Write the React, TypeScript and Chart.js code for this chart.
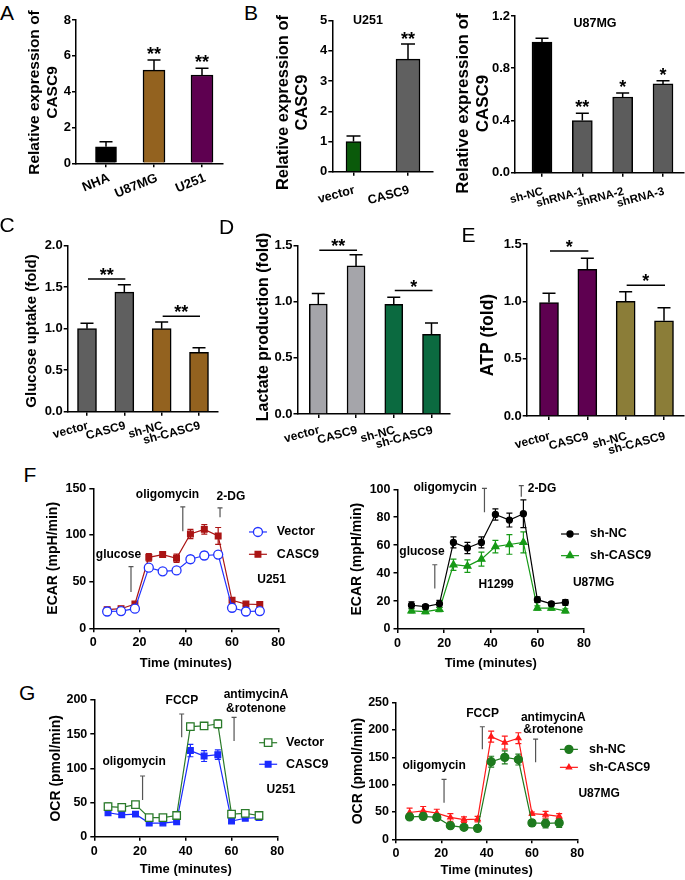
import React, { useEffect, useRef } from 'react';
import { Chart, registerables } from 'chart.js';

Chart.register(...registerables);
const FAMILY = "'Liberation Sans', Arial, Helvetica, sans-serif";
(Chart.defaults.font as any).family = FAMILY;
(Chart.defaults.font as any).weight = 'bold';
Chart.defaults.color = '#000';

// ---------------- data ----------------
const A_LABELS = ['NHA', 'U87MG', 'U251'];
const A_VALUES = [0.92, 5.2, 4.93];
const A_ERRORS = [0.28, 0.56, 0.37];
const A_STARS = ['', '**', '**'];

const B1_LABELS = ['vector', 'CASC9'];
const B1_VALUES = [1.0, 3.73];
const B1_ERRORS = [0.18, 0.5];
const B1_STARS = ['', '**'];

const B2_LABELS = ['sh-NC', 'shRNA-1', 'shRNA-2', 'shRNA-3'];
const B2_VALUES = [1.0, 0.4, 0.58, 0.68];
const B2_ERRORS = [0.03, 0.055, 0.03, 0.025];
const B2_STARS = ['', '**', '*', '*'];

const GROUP_LABELS = ['vector', 'CASC9', 'sh-NC', 'sh-CASC9'];
const C_VALUES = [1.0, 1.44, 1.0, 0.715];
const C_ERRORS = [0.065, 0.09, 0.08, 0.055];
const C_SIG = [{ from: 0, to: 1, y: 1.6, text: '**' }, { from: 2, to: 3, y: 1.15, text: '**' }];
const D_VALUES = [0.98, 1.32, 0.978, 0.71];
const D_ERRORS = [0.095, 0.1, 0.062, 0.1];
const D_SIG = [{ from: 0, to: 1, y: 1.46, text: '**' }, { from: 2, to: 3, y: 1.1, text: '*' }];
const E_VALUES = [0.99, 1.28, 1.0, 0.83];
const E_ERRORS = [0.08, 0.095, 0.084, 0.114];
const E_SIG = [{ from: 0, to: 1, y: 1.44, text: '*' }, { from: 2, to: 3, y: 1.14, text: '*' }];

const TIMES = [6, 12, 18, 24, 30, 36, 42, 48, 54, 60, 66, 72];
const F1_VECTOR = [18, 18.5, 21, 65, 61, 62, 74, 78, 79, 22, 18, 18.5];
const F1_VECTOR_ERR = [2, 2, 2, 2, 2, 2, 4, 4, 3, 2, 1.5, 1.5];
const F1_CASC9 = [20, 21, 26, 76, 79, 75, 101, 106, 99, 30, 26, 25.5];
const F1_CASC9_ERR = [2, 2, 2, 4, 2.5, 4.5, 5, 5, 9, 3, 2, 2];
const F2_SHNC = [17, 16, 18, 62, 58, 62, 82, 78, 82.5, 21, 18, 19];
const F2_SHNC_ERR = [2.5, 1.5, 2.5, 4, 4, 4, 4, 5, 10, 2, 1.5, 2];
const F2_SHCASC9 = [13, 12.5, 14, 46, 45, 50, 59, 60.5, 62, 15, 15, 13];
const F2_SHCASC9_ERR = [1.5, 1.5, 1.5, 4, 4.5, 5, 4.5, 7, 7.5, 1.5, 1.5, 1.5];
const G1_VECTOR = [44, 43, 47, 28, 28, 31, 161, 162, 165, 33, 34, 31];
const G1_VECTOR_ERR = [5, 4, 3, 3, 2, 3, 5, 3, 6, 2, 2, 2];
const G1_CASC9 = [35, 32, 33, 20, 20, 22, 126, 118, 120, 23, 27, 28];
const G1_CASC9_ERR = [4, 3, 3, 3, 2, 2, 9, 8, 7, 3, 3, 2];
const G2_SHNC = [41, 42, 40, 25, 22, 20, 142, 150, 146, 30, 29, 30];
const G2_SHNC_ERR = [4, 5, 5, 3, 3, 3, 10, 12, 10, 6, 8, 8];
const G2_SHCASC9 = [49, 52, 48, 40, 36, 37, 188, 177, 185, 47, 45, 42];
const G2_SHCASC9_ERR = [8, 8, 7, 7, 5, 5, 10, 12, 10, 3, 6, 5];

// ---------------- shared styles ----------------
const GRID = { display: true, drawOnChartArea: false, drawTicks: true, tickLength: 4, color: '#000', lineWidth: 1.5, offset: false };
const BORDER = { display: true, color: '#000', width: 1.5 };
const font = (size: number) => `bold ${size}px ${FAMILY}`;

function drawMarker(ctx: any, style: string, x: number, y: number, r: number, fill: string, stroke: string, lw: number) {
  ctx.beginPath();
  if (style === 'circle') ctx.arc(x, y, r, 0, Math.PI * 2);
  else if (style === 'rect') {
    const s = r * Math.SQRT1_2;
    ctx.rect(x - s, y - s, 2 * s, 2 * s);
  } else {
    for (let k = 0; k < 3; k++) {
      const a = (k * 2 * Math.PI) / 3;
      const px = x + Math.sin(a) * r;
      const py = y - Math.cos(a) * r;
      if (k === 0) ctx.moveTo(px, py);
      else ctx.lineTo(px, py);
    }
    ctx.closePath();
  }
  ctx.fillStyle = fill;
  ctx.fill();
  ctx.lineWidth = lw;
  ctx.strokeStyle = stroke;
  ctx.stroke();
}

// ---------------- bar panels ----------------
function barOverlay(c: any) {
  return {
    id: 'barOverlay',
    afterDatasetsDraw(chart: any) {
      const ctx = chart.ctx;
      const ys = chart.scales.y;
      const xsc = chart.scales.x;
      ctx.save();
      ctx.strokeStyle = '#000';
      ctx.lineWidth = 1.5;
      const xs: number[] = c.values.map((_: number, i: number) => xsc.getPixelForValue(i));
      c.values.forEach((v: number, i: number) => {
        const x = xs[i];
        const top = ys.getPixelForValue(v);
        const et = ys.getPixelForValue(v + c.errors[i]);
        const hw = c.capW / 2;
        ctx.beginPath();
        ctx.moveTo(x, top);
        ctx.lineTo(x, et);
        ctx.moveTo(x - hw, et);
        ctx.lineTo(x + hw, et);
        ctx.stroke();
        if (c.stars && c.stars[i]) {
          ctx.fillStyle = '#000';
          ctx.font = font(18);
          ctx.textAlign = 'center';
          ctx.textBaseline = 'alphabetic';
          ctx.fillText(c.stars[i], x, et - c.starGap + 0.56 * 18);
        }
      });
      (c.sig || []).forEach((s: any) => {
        const y = ys.getPixelForValue(s.y);
        ctx.beginPath();
        ctx.moveTo(xs[s.from] + 1, y);
        ctx.lineTo(xs[s.to] + 1, y);
        ctx.stroke();
        ctx.fillStyle = '#000';
        ctx.font = font(18);
        ctx.textAlign = 'center';
        ctx.textBaseline = 'alphabetic';
        ctx.fillText(s.text, (xs[s.from] + xs[s.to]) / 2 + 1, y - 8 + 0.56 * 18);
      });
      if (c.title) {
        ctx.fillStyle = '#000';
        ctx.font = font(c.title.size);
        ctx.textAlign = 'center';
        ctx.textBaseline = 'middle';
        ctx.fillText(c.title.text, c.title.x - c.cx, c.title.y - c.cy);
      }
      const lines = Array.isArray(c.yTitle) ? c.yTitle : [c.yTitle];
      ctx.save();
      ctx.translate(c.yTitleX - c.cx, c.yTitleY - c.cy);
      ctx.rotate(-Math.PI / 2);
      ctx.fillStyle = '#000';
      ctx.font = font(c.yTitleSize);
      ctx.textAlign = 'center';
      ctx.textBaseline = 'middle';
      lines.forEach((ln: string, k: number) => ctx.fillText(ln, 0, k * c.yTitleLH));
      ctx.restore();
      ctx.restore();
    },
  };
}

function barConfig(c: any) {
  const [l, t, r, b] = c.plot;
  const n = c.labels.length;
  const sp = (c.cN - c.c0) / (n - 1);
  const xMin = -(c.c0 - l) / sp;
  const xMax = xMin + (r - l) / sp;
  const yW = l - c.cx;
  const xH = c.cy + c.ch - b;
  const padT = t - c.cy;
  const padR = c.cx + c.cw - r;
  const widths = Array.isArray(c.barW) ? c.barW : c.values.map(() => c.barW);
  return {
    type: 'bar',
    data: {
      datasets: c.values.map((v: number, i: number) => ({
        data: [{ x: i, y: v }],
        backgroundColor: c.colors[i],
        borderColor: '#000',
        borderWidth: 1.5,
        barThickness: widths[i],
        grouped: false,
      })),
    },
    options: {
      animation: false,
      responsive: false,
      events: [],
      layout: { padding: { top: padT, right: padR, left: 0, bottom: 0 } },
      plugins: { legend: { display: false }, tooltip: { enabled: false } },
      scales: {
        x: {
          type: 'linear',
          min: xMin,
          max: xMax,
          offset: false,
          z: 1,
          afterBuildTicks: (s: any) => {
            s.ticks = c.labels.map((_: string, i: number) => ({ value: i }));
          },
          afterFit: (s: any) => {
            s.height = xH;
          },
          ticks: {
            autoSkip: false,
            minRotation: c.xRot,
            maxRotation: c.xRot,
            padding: c.xPad,
            labelOffset: c.xOff,
            font: { size: c.xFont, weight: 'bold' },
            color: '#000',
            callback: (v: any) => c.labels[Math.round(v)] ?? '',
          },
          grid: GRID,
          border: BORDER,
        },
        y: {
          min: 0,
          max: c.yMax,
          z: 1,
          afterFit: (s: any) => {
            s.width = yW;
          },
          ticks: {
            stepSize: c.yStep,
            padding: 1,
            font: { size: c.tickSize, weight: 'bold' },
            color: '#000',
            callback: (v: any) => Number(v).toFixed(c.yDec),
          },
          grid: GRID,
          border: BORDER,
        },
      },
    },
    plugins: [barOverlay(c)],
  };
}

// ---------------- line panels ----------------
function lineOverlay(c: any) {
  return {
    id: 'lineOverlay',
    beforeDatasetsDraw(chart: any) {
      const ctx = chart.ctx;
      const xs = chart.scales.x;
      const ys = chart.scales.y;
      ctx.save();
      ctx.lineWidth = 1.2;
      c.series.forEach((s: any) => {
        ctx.strokeStyle = s.color;
        TIMES.forEach((tm, i) => {
          const x = xs.getPixelForValue(tm);
          const y1 = ys.getPixelForValue(s.values[i] + s.errors[i]);
          const y2 = ys.getPixelForValue(s.values[i] - s.errors[i]);
          ctx.beginPath();
          ctx.moveTo(x, y1);
          ctx.lineTo(x, y2);
          ctx.moveTo(x - 3, y1);
          ctx.lineTo(x + 3, y1);
          ctx.moveTo(x - 3, y2);
          ctx.lineTo(x + 3, y2);
          ctx.stroke();
        });
      });
      ctx.restore();
    },
    afterDraw(chart: any) {
      const ctx = chart.ctx;
      const xs = chart.scales.x;
      const ys = chart.scales.y;
      ctx.save();
      ctx.strokeStyle = '#555';
      ctx.lineWidth = 1.2;
      c.marks.forEach((m: any) => {
        const x = xs.getPixelForValue(m.x);
        const y0 = ys.getPixelForValue(m.y0);
        const y1 = ys.getPixelForValue(m.y1);
        ctx.beginPath();
        ctx.moveTo(x, y0);
        ctx.lineTo(x, y1);
        ctx.moveTo(x - 2.5, y1);
        ctx.lineTo(x + 2.5, y1);
        ctx.stroke();
      });
      ctx.fillStyle = '#000';
      ctx.font = font(12);
      ctx.textAlign = 'center';
      ctx.textBaseline = 'middle';
      c.notes.forEach((nt: any) => {
        const lines = Array.isArray(nt.text) ? nt.text : [nt.text];
        const x = xs.getPixelForValue(nt.x);
        const y = ys.getPixelForValue(nt.y);
        lines.forEach((ln: string, k: number) => ctx.fillText(ln, x, y + k * (nt.lh || 13.5)));
      });
      const lg = c.legend;
      const sx = xs.getPixelForValue(lg.x);
      const tx = xs.getPixelForValue(lg.tx);
      c.series.forEach((s: any, k: number) => {
        const y = ys.getPixelForValue(lg.ys[k]);
        ctx.strokeStyle = s.color;
        ctx.lineWidth = 1.2;
        ctx.beginPath();
        ctx.moveTo(sx - 9, y);
        ctx.lineTo(sx + 9, y);
        ctx.stroke();
        drawMarker(ctx, s.style, sx, y, s.radius, s.open ? '#fff' : s.color, s.color, 1.3);
        ctx.fillStyle = '#000';
        ctx.font = font(12.5);
        ctx.textAlign = 'left';
        ctx.textBaseline = 'middle';
        ctx.fillText(s.label, tx, y);
      });
      ctx.restore();
    },
  };
}

function lineConfig(c: any) {
  const [l, t, r, b] = c.plot;
  const yW = l - c.cx;
  const xH = c.cy + c.ch - b;
  const padT = t - c.cy;
  const padR = c.cx + c.cw - r;
  const tickFont = { size: 12.5, weight: 'bold' };
  return {
    type: 'line',
    data: {
      datasets: c.series.map((s: any) => ({
        label: s.label,
        data: TIMES.map((tm, i) => ({ x: tm, y: s.values[i] })),
        borderColor: s.color,
        backgroundColor: s.color,
        borderWidth: 1.2,
        fill: false,
        tension: 0,
        pointStyle: s.style,
        pointRadius: s.radius,
        pointHoverRadius: s.radius,
        pointBorderWidth: 1.3,
        pointBackgroundColor: s.open ? '#fff' : s.color,
        pointBorderColor: s.color,
      })),
    },
    options: {
      animation: false,
      responsive: false,
      events: [],
      layout: { padding: { top: padT, right: padR, left: 0, bottom: 0 } },
      plugins: { legend: { display: false }, tooltip: { enabled: false } },
      scales: {
        x: {
          type: 'linear',
          min: 0,
          max: 80,
          afterFit: (s: any) => {
            s.height = xH;
          },
          ticks: { stepSize: 20, font: tickFont, color: '#000', padding: 3, maxRotation: 0, autoSkip: false },
          grid: GRID,
          border: BORDER,
          title: {
            display: true,
            text: 'Time (minutes)',
            color: '#000',
            font: { size: 13, weight: 'bold', lineHeight: 1.2 },
            padding: { top: 0, bottom: c.cy + c.ch - c.xTitleY - 7.8 },
          },
        },
        y: {
          min: 0,
          max: c.yMax,
          afterFit: (s: any) => {
            s.width = yW;
          },
          ticks: { stepSize: c.yStep, font: tickFont, color: '#000', padding: 3 },
          grid: GRID,
          border: BORDER,
          title: {
            display: true,
            text: c.yTitle,
            color: '#000',
            font: { size: 14, weight: 'bold', lineHeight: 1.2 },
            padding: { top: c.yTitleX - c.cx - 8.4, bottom: 0 },
          },
        },
      },
    },
    plugins: [lineOverlay(c)],
  };
}

// ---------------- panel layouts ----------------
const PANEL_A = {
  cx: 18, cy: 0, cw: 212, ch: 215, plot: [76, 20, 223, 163.3], c0: 106, cN: 202,
  labels: A_LABELS, values: A_VALUES, errors: A_ERRORS, stars: A_STARS, starGap: 10,
  colors: ['#000000', '#93621f', '#5e0050'],
  yMax: 8, yStep: 2, yDec: 0, barW: [21, 22, 22], capW: 13, tickSize: 13,
  yTitle: ['Relative expression of', 'CASC9'], yTitleX: 35, yTitleY: 92.5, yTitleSize: 15.5, yTitleLH: 18,
  xRot: 22, xFont: 13, xPad: 3, xOff: 3,
};
const PANEL_B1 = {
  cx: 262, cy: 0, cw: 183, ch: 215, plot: [332.3, 20.7, 433, 171.7], c0: 353.5, cN: 408,
  labels: B1_LABELS, values: B1_VALUES, errors: B1_ERRORS, stars: B1_STARS, starGap: 9,
  colors: ['#0a5a0a', '#606060'],
  yMax: 5, yStep: 1, yDec: 0, barW: [15, 24], capW: 14, tickSize: 13,
  yTitle: ['Relative expression of', 'CASC9'], yTitleX: 283.3, yTitleY: 102.5, yTitleSize: 16.5, yTitleLH: 19.5,
  xRot: 15, xFont: 12.5, xPad: 7, xOff: 1,
  title: { text: 'U251', x: 368, y: 21, size: 12.5 },
};
const PANEL_B2 = {
  cx: 448, cy: 0, cw: 237, ch: 215, plot: [515, 16, 683.3, 172.7], c0: 542, cN: 663,
  labels: B2_LABELS, values: B2_VALUES, errors: B2_ERRORS, stars: B2_STARS, starGap: 10,
  colors: ['#000000', '#5c5c5c', '#5c5c5c', '#5c5c5c'],
  yMax: 1.2, yStep: 0.4, yDec: 1, barW: 20, capW: 13, tickSize: 13,
  yTitle: ['Relative expression of', 'CASC9'], yTitleX: 463.3, yTitleY: 103.5, yTitleSize: 17, yTitleLH: 20,
  xRot: 15, xFont: 11.5, xPad: 8, xOff: 1,
  title: { text: 'U87MG', x: 595, y: 24, size: 12.5 },
};
const PANEL_C = {
  cx: 14, cy: 232, cw: 211, ch: 228, plot: [67.7, 245.7, 218, 411.7], c0: 87, cN: 199,
  labels: GROUP_LABELS, values: C_VALUES, errors: C_ERRORS, sig: C_SIG,
  colors: ['#5f5f5f', '#5f5f5f', '#93621f', '#93621f'],
  yMax: 2, yStep: 0.5, yDec: 1, barW: 19, capW: 13, tickSize: 13,
  yTitle: 'Glucose uptake (fold)', yTitleX: 32, yTitleY: 331, yTitleSize: 15, yTitleLH: 18,
  xRot: 15, xFont: 12, xPad: 3, xOff: 1,
};
const PANEL_D = {
  cx: 245, cy: 232, cw: 212, ch: 228, plot: [297.5, 245.7, 450, 414], c0: 318.3, cN: 431.5,
  labels: GROUP_LABELS, values: D_VALUES, errors: D_ERRORS, sig: D_SIG,
  colors: ['#a5a5aa', '#a5a5aa', '#0b6a40', '#0b6a40'],
  yMax: 1.5, yStep: 0.5, yDec: 1, barW: 18, capW: 13, tickSize: 13,
  yTitle: 'Lactate production (fold)', yTitleX: 263.3, yTitleY: 327, yTitleSize: 16, yTitleLH: 19,
  xRot: 15, xFont: 12, xPad: 5, xOff: 1,
};
const PANEL_E = {
  cx: 470, cy: 232, cw: 215, ch: 228, plot: [526.7, 244, 684, 416], c0: 549, cN: 664,
  labels: GROUP_LABELS, values: E_VALUES, errors: E_ERRORS, sig: E_SIG,
  colors: ['#5e0050', '#5e0050', '#8b7d38', '#8b7d38'],
  yMax: 1.5, yStep: 0.5, yDec: 1, barW: 19, capW: 13, tickSize: 13,
  yTitle: 'ATP (fold)', yTitleX: 488.3, yTitleY: 335, yTitleSize: 17.5, yTitleLH: 20,
  xRot: 15, xFont: 12, xPad: 9, xOff: 1,
};

const PANEL_F1 = {
  cx: 38, cy: 473, cw: 302, ch: 202, plot: [93.3, 488.3, 278.3, 628.3],
  yMax: 150, yStep: 50, yTitle: 'ECAR (mpH/min)', yTitleX: 53, xTitleY: 663.3,
  series: [
    { label: 'Vector', values: F1_VECTOR, errors: F1_VECTOR_ERR, color: '#2233ff', style: 'circle', radius: 4.5, open: true },
    { label: 'CASC9', values: F1_CASC9, errors: F1_CASC9_ERR, color: '#aa1414', style: 'rect', radius: 4, open: false },
  ],
  marks: [
    { x: 16.3, y0: 39, y1: 66 },
    { x: 38.7, y0: 104, y1: 130 },
    { x: 54.8, y0: 119, y1: 129 },
  ],
  notes: [
    { text: 'glucose', x: 10.9, y: 78.6 },
    { text: 'oligomycin', x: 32.1, y: 142.9 },
    { text: '2-DG', x: 59.5, y: 140.7 },
    { text: 'U251', x: 77.1, y: 51.8 },
  ],
  legend: { x: 71.2, tx: 79.3, ys: [103.2, 79.3] },
};
const PANEL_F2 = {
  cx: 342, cy: 474, cw: 343, ch: 202, plot: [397.5, 489.3, 584, 629],
  yMax: 100, yStep: 20, yTitle: 'ECAR (mpH/min)', yTitleX: 356.7, xTitleY: 663.3,
  series: [
    { label: 'sh-NC', values: F2_SHNC, errors: F2_SHNC_ERR, color: '#000000', style: 'circle', radius: 3, open: false },
    { label: 'sh-CASC9', values: F2_SHCASC9, errors: F2_SHCASC9_ERR, color: '#179a17', style: 'triangle', radius: 4, open: false },
  ],
  marks: [
    { x: 16, y0: 29, y1: 46 },
    { x: 37.3, y0: 83.5, y1: 100.7 },
    { x: 53.1, y0: 94.7, y1: 102.6 },
  ],
  notes: [
    { text: 'glucose', x: 10.5, y: 55.3 },
    { text: 'oligomycin', x: 20.4, y: 100.9 },
    { text: '2-DG', x: 62, y: 100.2 },
    { text: 'H1299', x: 42.3, y: 32 },
    { text: 'U87MG', x: 84.1, y: 33.4 },
  ],
  legend: { x: 74, tx: 82.6, ys: [68, 52.5] },
};
const PANEL_G1 = {
  cx: 38, cy: 684, cw: 302, ch: 196, plot: [94.3, 700, 277.3, 836.7],
  yMax: 200, yStep: 50, yTitle: 'OCR (pmol/min)', yTitleX: 56, xTitleY: 869.3,
  series: [
    { label: 'Vector', values: G1_VECTOR, errors: G1_VECTOR_ERR, color: '#2a7a2a', style: 'rect', radius: 5.3, open: true },
    { label: 'CASC9', values: G1_CASC9, errors: G1_CASC9_ERR, color: '#1a2aff', style: 'rect', radius: 4, open: false },
  ],
  marks: [
    { x: 21.1, y0: 53.7, y1: 88.8 },
    { x: 38.2, y0: 145.5, y1: 179.5 },
    { x: 61.1, y0: 140, y1: 174.7 },
  ],
  notes: [
    { text: 'oligomycin', x: 17.4, y: 109.3 },
    { text: 'FCCP', x: 38.3, y: 198.5 },
    { text: ['antimycinA', '&rotenone'], x: 70.7, y: 207.3, lh: 14 },
    { text: 'U251', x: 81.6, y: 68.3 },
  ],
  legend: { x: 76, tx: 83.8, ys: [137.5, 106] },
};
const PANEL_G2 = {
  cx: 342, cy: 687, cw: 343, ch: 193, plot: [396, 702.7, 577.3, 839.3],
  yMax: 250, yStep: 50, yTitle: 'OCR (pmol/min)', yTitleX: 358.3, xTitleY: 870.7,
  series: [
    { label: 'sh-NC', values: G2_SHNC, errors: G2_SHNC_ERR, color: '#1e7a1e', style: 'circle', radius: 4, open: false },
    { label: 'sh-CASC9', values: G2_SHCASC9, errors: G2_SHCASC9_ERR, color: '#ff1a1a', style: 'triangle', radius: 3, open: false },
  ],
  marks: [
    { x: 21.2, y0: 67, y1: 109.7 },
    { x: 38.1, y0: 164.6, y1: 206 },
    { x: 61.6, y0: 140.8, y1: 183.5 },
  ],
  notes: [
    { text: 'oligomycin', x: 16.8, y: 134.6 },
    { text: 'FCCP', x: 38.2, y: 229.2 },
    { text: ['antimycinA', '&rotenone'], x: 69.4, y: 223.1, lh: 12.5 },
    { text: 'U87MG', x: 89.6, y: 84 },
  ],
  legend: { x: 76.3, tx: 85.2, ys: [164.6, 131.7] },
};

const PANELS: { kind: string; cfg: any }[] = [
  { kind: 'bar', cfg: PANEL_A },
  { kind: 'bar', cfg: PANEL_B1 },
  { kind: 'bar', cfg: PANEL_B2 },
  { kind: 'bar', cfg: PANEL_C },
  { kind: 'bar', cfg: PANEL_D },
  { kind: 'bar', cfg: PANEL_E },
  { kind: 'line', cfg: PANEL_F1 },
  { kind: 'line', cfg: PANEL_F2 },
  { kind: 'line', cfg: PANEL_G1 },
  { kind: 'line', cfg: PANEL_G2 },
];

const LETTERS = [
  { t: 'A', x: 0, y: 2.2 },
  { t: 'B', x: 244, y: 2.2 },
  { t: 'C', x: -0.5, y: 214 },
  { t: 'D', x: 219, y: 215.5 },
  { t: 'E', x: 461.5, y: 224 },
  { t: 'F', x: 23.5, y: 464 },
  { t: 'G', x: 19, y: 682.2 },
];

function ChartBox({ kind, cfg }: { kind: string; cfg: any }) {
  const ref = useRef<HTMLCanvasElement>(null);
  useEffect(() => {
    if (!ref.current) return;
    const chart = new Chart(ref.current, (kind === 'bar' ? barConfig(cfg) : lineConfig(cfg)) as any);
    return () => chart.destroy();
  }, [kind, cfg]);
  return (
    <canvas
      ref={ref}
      width={cfg.cw}
      height={cfg.ch}
      style={{ position: 'absolute', left: cfg.cx, top: cfg.cy, width: cfg.cw, height: cfg.ch }}
    />
  );
}

export default function App() {
  return (
    <div style={{ position: 'absolute', left: 0, top: 0, width: 685, height: 880, background: '#fff', overflow: 'hidden' }}>
      {PANELS.map((p, i) => (
        <ChartBox key={i} kind={p.kind} cfg={p.cfg} />
      ))}
      {LETTERS.map((l) => (
        <div
          key={l.t}
          style={{
            position: 'absolute', left: l.x, top: l.y, fontFamily: FAMILY, fontSize: 21,
            lineHeight: '21px', fontWeight: 'normal', color: '#000',
          }}
        >
          {l.t}
        </div>
      ))}
    </div>
  );
}
